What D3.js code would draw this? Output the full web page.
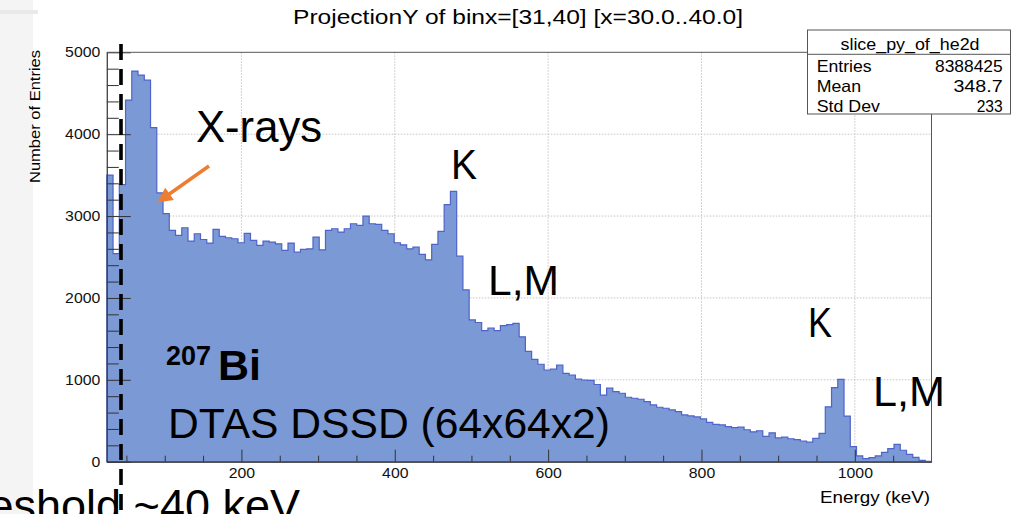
<!DOCTYPE html>
<html><head><meta charset="utf-8">
<script src="https://cdn.jsdelivr.net/npm/d3@7"></script>
<style>html,body{margin:0;padding:0;background:#fff;} svg{display:block;}</style>
</head><body>
<svg id="c" width="1012" height="514"></svg>
<script>
// ---- data ----
const binLow = 24.44;          // lower edge of first shown bin (keV)
const binWidth = 1100 / 135;   // bin width (keV)
const counts = [
  3500, 2540, 3384, 4416, 4771, 4722, 4660, 4081, 3282, 3029,
  2825, 2763, 2857, 2694, 2784, 2714, 2670, 2837, 2751, 2735,
  2723, 2674, 2788, 2702, 2641, 2694, 2682, 2661, 2580, 2670,
  2559, 2592, 2600, 2743,
  2588, 2825, 2845, 2804, 2845, 2906, 2886, 3000, 2906, 2898,
  2825, 2784, 2674, 2649, 2600, 2620, 2531, 2466, 2653, 2812, 3139, 3302,
  2510, 2098, 1731, 1700, 1601, 1633, 1600, 1662, 1674, 1690,
  1525, 1348, 1250, 1190, 1120, 1130, 1181, 1079, 1059, 1008, 998, 993, 943, 814,
  898, 857, 836, 787, 775, 763, 734, 694, 665, 653, 632, 612, 571, 559, 547, 522, 481, 457, 449, 428, 416,
  422, 390, 365, 378, 310, 353, 290, 300, 280, 269, 253, 239, 284, 345,
  670, 905, 1006, 557, 185, 70, 38, 49, 70, 115, 160, 212, 140, 90, 52, 15, 4
];
const xTicks = [200, 400, 600, 800, 1000];
const yTicks = [0, 1000, 2000, 3000, 4000, 5000];
const xDomain = [24.44, 1100];
const yDomain = [0, 5000];
const titleText = "ProjectionY of binx=[31,40] [x=30.0..40.0]";
const xTitle = "Energy (keV)";
const yTitle = "Number of Entries";
const statsName = "slice_py_of_he2d";
const statsLabels = ["Entries", "Mean", "Std Dev"];
const statsValues = ["8388425", "348.7", "233"];

// ---- layout ----
const plot = {l: 106.8, r: 931.5, t: 52.3, b: 461.7};
const ROOTFONT = "'Liberation Sans', Arial, Helvetica, sans-serif";
const svg = d3.select("#c");
const x = d3.scaleLinear().domain(xDomain).range([plot.l, plot.r]);
const y = d3.scaleLinear().domain(yDomain).range([plot.b, plot.t]);

function stretchBy(sel, f) {
  sel.each(function () {
    const w = this.getComputedTextLength();
    d3.select(this).attr("textLength", w * f).attr("lengthAdjust", "spacingAndGlyphs");
  });
}
function fitTo(sel, w) { sel.attr("textLength", w).attr("lengthAdjust", "spacingAndGlyphs"); }

// background
svg.append("rect").attr("width", 1012).attr("height", 514).attr("fill", "#fff");
svg.append("rect").attr("x", 0).attr("y", 0).attr("width", 33).attr("height", 514).attr("fill", "#f4f4f4");
svg.append("rect").attr("x", 0).attr("y", 10).attr("width", 38).attr("height", 4).attr("fill", "#e9e9e9");

// grid
const grid = svg.append("g").attr("stroke", "#c4c4c4").attr("stroke-width", 1).attr("stroke-dasharray", "1.5,1.5");
xTicks.forEach(t => grid.append("line").attr("x1", x(t)).attr("x2", x(t)).attr("y1", plot.t).attr("y2", plot.b));
yTicks.filter(t => t > 0 && t < 5000).forEach(t => grid.append("line").attr("x1", plot.l).attr("x2", plot.r).attr("y1", y(t)).attr("y2", y(t)));

// histogram
const hi = binLow + counts.length * binWidth;
let d = `M${x(binLow)},${y(0)}`;
counts.forEach((v, i) => {
  const x0 = x(binLow + i * binWidth), x1 = x(binLow + (i + 1) * binWidth);
  d += `L${x0},${y(v)}L${x1},${y(v)}`;
});
d += `L${x(hi)},${y(0)}Z`;
svg.append("path").attr("d", d).attr("fill", "#7b99d4").attr("stroke", "#4f63c9").attr("stroke-width", 1.2).attr("stroke-linejoin", "miter");

// axes
function styleAxis(g) {
  g.attr("font-family", ROOTFONT).attr("font-size", 14);
  g.selectAll("line").attr("stroke", "#333");
  g.selectAll(".domain").attr("stroke", "#444");
  g.selectAll("text").attr("fill", "#111");
}
const xMinor = d3.range(50, 1100, 50).filter(v => v % 200 !== 0);
const yMinor = d3.range(200, 5000, 200).filter(v => v % 1000 !== 0);
svg.append("g").attr("transform", `translate(0,${plot.b})`)
  .call(d3.axisBottom(x).tickValues(xMinor).tickSize(-6).tickSizeOuter(0).tickFormat(""))
  .call(styleAxis);
const gx = svg.append("g").attr("transform", `translate(0,${plot.b})`)
  .call(d3.axisBottom(x).tickValues(xTicks).tickSize(-12).tickSizeOuter(0).tickPadding(6.5).tickFormat(d3.format("d")))
  .call(styleAxis);
svg.append("g").attr("transform", `translate(${plot.l},0)`)
  .call(d3.axisLeft(y).tickValues(yMinor).tickSize(-12).tickSizeOuter(0).tickFormat(""))
  .call(styleAxis);
const gy = svg.append("g").attr("transform", `translate(${plot.l},0)`)
  .call(d3.axisLeft(y).tickValues(yTicks).tickSize(-24).tickSizeOuter(0).tickPadding(6.5).tickFormat(d3.format("d")))
  .call(styleAxis);
stretchBy(gx.selectAll("text"), 1.13);
stretchBy(gy.selectAll("text"), 1.13);

// frame top/right
svg.append("path").attr("d", `M${plot.l},${plot.t}H${plot.r}V${plot.b}`).attr("fill", "none").attr("stroke", "#555").attr("stroke-width", 1);

// title
fitTo(svg.append("text").attr("x", 518).attr("y", 24).attr("text-anchor", "middle")
  .attr("font-family", ROOTFONT).attr("font-size", 20).text(titleText), 450);

// axis titles
fitTo(svg.append("text").attr("x", 930).attr("y", 503).attr("text-anchor", "end")
  .attr("font-family", ROOTFONT).attr("font-size", 16.5).text(xTitle), 110);
fitTo(svg.append("text").attr("transform", "translate(40,50) rotate(-90)").attr("text-anchor", "end")
  .attr("font-family", ROOTFONT).attr("font-size", 14.5).text(yTitle), 133);

// stats box
const sb = {l: 807.5, r: 1010.5, t: 30, b: 114, div: 54.3};
svg.append("rect").attr("x", sb.l).attr("y", sb.t).attr("width", sb.r - sb.l).attr("height", sb.b - sb.t)
  .attr("fill", "#fff").attr("stroke", "#555").attr("stroke-width", 1);
svg.append("line").attr("x1", sb.l).attr("x2", sb.r).attr("y1", sb.div).attr("y2", sb.div).attr("stroke", "#555");
fitTo(svg.append("text").attr("x", 910).attr("y", 49.5).attr("text-anchor", "middle")
  .attr("font-family", ROOTFONT).attr("font-size", 16).text(statsName), 139);
const labW = [55, 44.3, 63.3], valW = [67.7, 49.3, 26];
statsLabels.forEach((lab, i) => {
  const by = 71.7 + i * 20;
  fitTo(svg.append("text").attr("x", 816.7).attr("y", by).attr("font-family", ROOTFONT).attr("font-size", 16.5).text(lab), labW[i]);
  fitTo(svg.append("text").attr("x", 1002.7).attr("y", by).attr("text-anchor", "end").attr("font-family", ROOTFONT).attr("font-size", 16.5).text(statsValues[i]), valW[i]);
});

// annotations
const AF = "'Liberation Sans', Arial, Helvetica, sans-serif";
function ann(tx, xx, yy, fs, w) {
  const t = svg.append("text").attr("x", xx).attr("y", yy).attr("font-family", AF).attr("font-size", fs).attr("fill", "#000").text(tx);
  if (w) fitTo(t, w);
  return t;
}
ann("X-rays", 196, 142, 44, 126);
ann("K", 451, 179, 42, 26);
ann("L,M", 488, 295, 43, 71);
ann("K", 808, 337, 42, 24);
ann("L,M", 873, 406, 43, 72);
ann("DTAS DSSD (64x64x2)", 168, 438, 43, 442);
svg.append("text").attr("x", 166).attr("y", 365).attr("font-family", AF).attr("font-weight", "bold").attr("font-size", 27).text("207");
svg.append("text").attr("x", 218).attr("y", 380).attr("font-family", AF).attr("font-weight", "bold").attr("font-size", 43).text("Bi");
svg.append("text").attr("x", 300).attr("y", 521).attr("text-anchor", "end").attr("font-family", AF).attr("font-size", 45).text("Threshold ~40 keV");

// threshold dashed line
svg.append("line").attr("x1", 121).attr("x2", 121).attr("y1", 44).attr("y2", 514)
  .attr("stroke", "#000").attr("stroke-width", 3.6).attr("stroke-dasharray", "16,9");

// arrow
const S = [209, 166], T = [157.3, 202.5];
const dx = T[0] - S[0], dy = T[1] - S[1], L = Math.hypot(dx, dy);
const ux = dx / L, uy = dy / L, nx = -uy, ny = ux;
const hl = 15, hw = 7.5;
const B = [T[0] - hl * ux, T[1] - hl * uy];
svg.append("line").attr("x1", S[0]).attr("y1", S[1]).attr("x2", B[0] + 2 * ux).attr("y2", B[1] + 2 * uy)
  .attr("stroke", "#ed7d31").attr("stroke-width", 3.5);
svg.append("path").attr("d", `M${T[0]},${T[1]}L${B[0] + hw * nx},${B[1] + hw * ny}L${B[0] - hw * nx},${B[1] - hw * ny}Z`).attr("fill", "#ed7d31");
</script>
</body></html>
